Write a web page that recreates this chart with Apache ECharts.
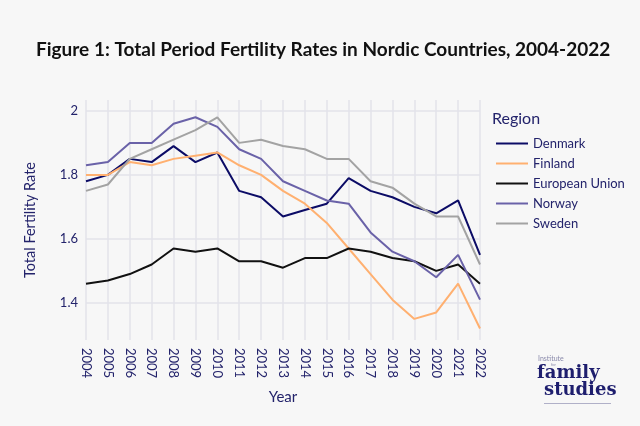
<!DOCTYPE html>
<html><head><meta charset="utf-8">
<script src="https://cdn.jsdelivr.net/npm/echarts@6/dist/echarts.min.js"></script>
<style>html,body{margin:0;padding:0;background:#f7f7f7}#c{width:640px;height:426px}</style>
</head><body><div id="c"></div>
<script>
const years = ['2004','2005','2006','2007','2008','2009','2010','2011','2012','2013','2014','2015','2016','2017','2018','2019','2020','2021','2022'];
const denmark = [1.78,1.80,1.85,1.84,1.89,1.84,1.87,1.75,1.73,1.67,1.69,1.71,1.79,1.75,1.73,1.70,1.68,1.72,1.55];
const finland = [1.80,1.80,1.84,1.83,1.85,1.86,1.87,1.83,1.80,1.75,1.71,1.65,1.57,1.49,1.41,1.35,1.37,1.46,1.32];
const eu = [1.46,1.47,1.49,1.52,1.57,1.56,1.57,1.53,1.53,1.51,1.54,1.54,1.57,1.56,1.54,1.53,1.50,1.52,1.46];
const norway = [1.83,1.84,1.90,1.90,1.96,1.98,1.95,1.88,1.85,1.78,1.75,1.72,1.71,1.62,1.56,1.53,1.48,1.55,1.41];
const sweden = [1.75,1.77,1.85,1.88,1.91,1.94,1.98,1.90,1.91,1.89,1.88,1.85,1.85,1.78,1.76,1.71,1.67,1.67,1.52];
const yTicks = [1.4,1.6,1.8,2.0];

const navy = '#23236b';
const font = 'Lato';
const seriesDefs = [
  {name:'Denmark', data:denmark, color:'#0c0c66'},
  {name:'Finland', data:finland, color:'#ffb070'},
  {name:'European Union', data:eu, color:'#111111'},
  {name:'Norway', data:norway, color:'#6a62a8'},
  {name:'Sweden', data:sweden, color:'#a3a3a3'}
];
const chart = echarts.init(document.getElementById('c'));
chart.setOption({
  backgroundColor:'#f7f7f7',
  animation:false,
  textStyle:{fontFamily:font},
  title:{text:'Figure 1: Total Period Fertility Rates in Nordic Countries, 2004-2022',left:31,top:35,
    textStyle:{fontFamily:font,fontWeight:'bold',fontSize:19,color:'#111'}},
  grid:{left:86,right:160,top:100,bottom:86},
  legend:{orient:'vertical',left:491,top:132,itemWidth:32,itemHeight:2,itemGap:7,icon:'rect',
    textStyle:{fontFamily:font,fontSize:13,color:navy},
    data:seriesDefs.map(s=>s.name)},
  graphic:[
    {type:'text',left:492,top:111,style:{text:'Region',fontFamily:font,fontSize:16,fill:navy}},
    {type:'text',left:538,top:355,style:{text:'Institute',fontFamily:font,fontSize:7,fill:'#8888aa'}},
    {type:'text',left:551,top:363,style:{text:'for',fontFamily:font,fontSize:4,fill:'#8888aa'}},
    {type:'text',left:537,top:364,style:{text:'family',fontFamily:'DejaVu Serif',fontWeight:'bold',fontSize:18,fill:'#1e1e6e'}},
    {type:'text',left:544,top:381,style:{text:'studies',fontFamily:'DejaVu Serif',fontWeight:'bold',fontSize:18,fill:'#1e1e6e'}},
    {type:'rect',left:544,top:403,shape:{width:67,height:1},style:{fill:'#b0b0c8'}}
  ],
  xAxis:{type:'category',data:years,boundaryGap:false,
    name:'Year',nameLocation:'middle',nameGap:50,
    nameTextStyle:{fontFamily:font,fontSize:15,color:navy},
    axisLine:{show:false},axisTick:{show:false},
    axisLabel:{rotate:-90,fontFamily:font,fontSize:13,color:navy,margin:8,interval:0},
    splitLine:{show:true,lineStyle:{color:'#e3e3ea',width:1.5}}},
  yAxis:{type:'value',min:1.284,max:2.034,
    name:'Total Fertility Rate',nameLocation:'middle',nameGap:48,
    nameTextStyle:{fontFamily:font,fontSize:14.5,color:navy},
    axisLine:{show:false},
    axisTick:{show:false,customValues:yTicks},
    axisLabel:{customValues:yTicks,fontFamily:font,fontSize:13,color:navy,margin:8,
      formatter:v=>String(Math.round(v*10)/10)},
    splitLine:{show:true,lineStyle:{color:'#e3e3ea',width:1.5}}},
  series:seriesDefs.map(s=>({name:s.name,type:'line',data:s.data,symbol:'none',
    color:s.color,lineStyle:{width:2,color:s.color}}))
});
</script></body></html>
